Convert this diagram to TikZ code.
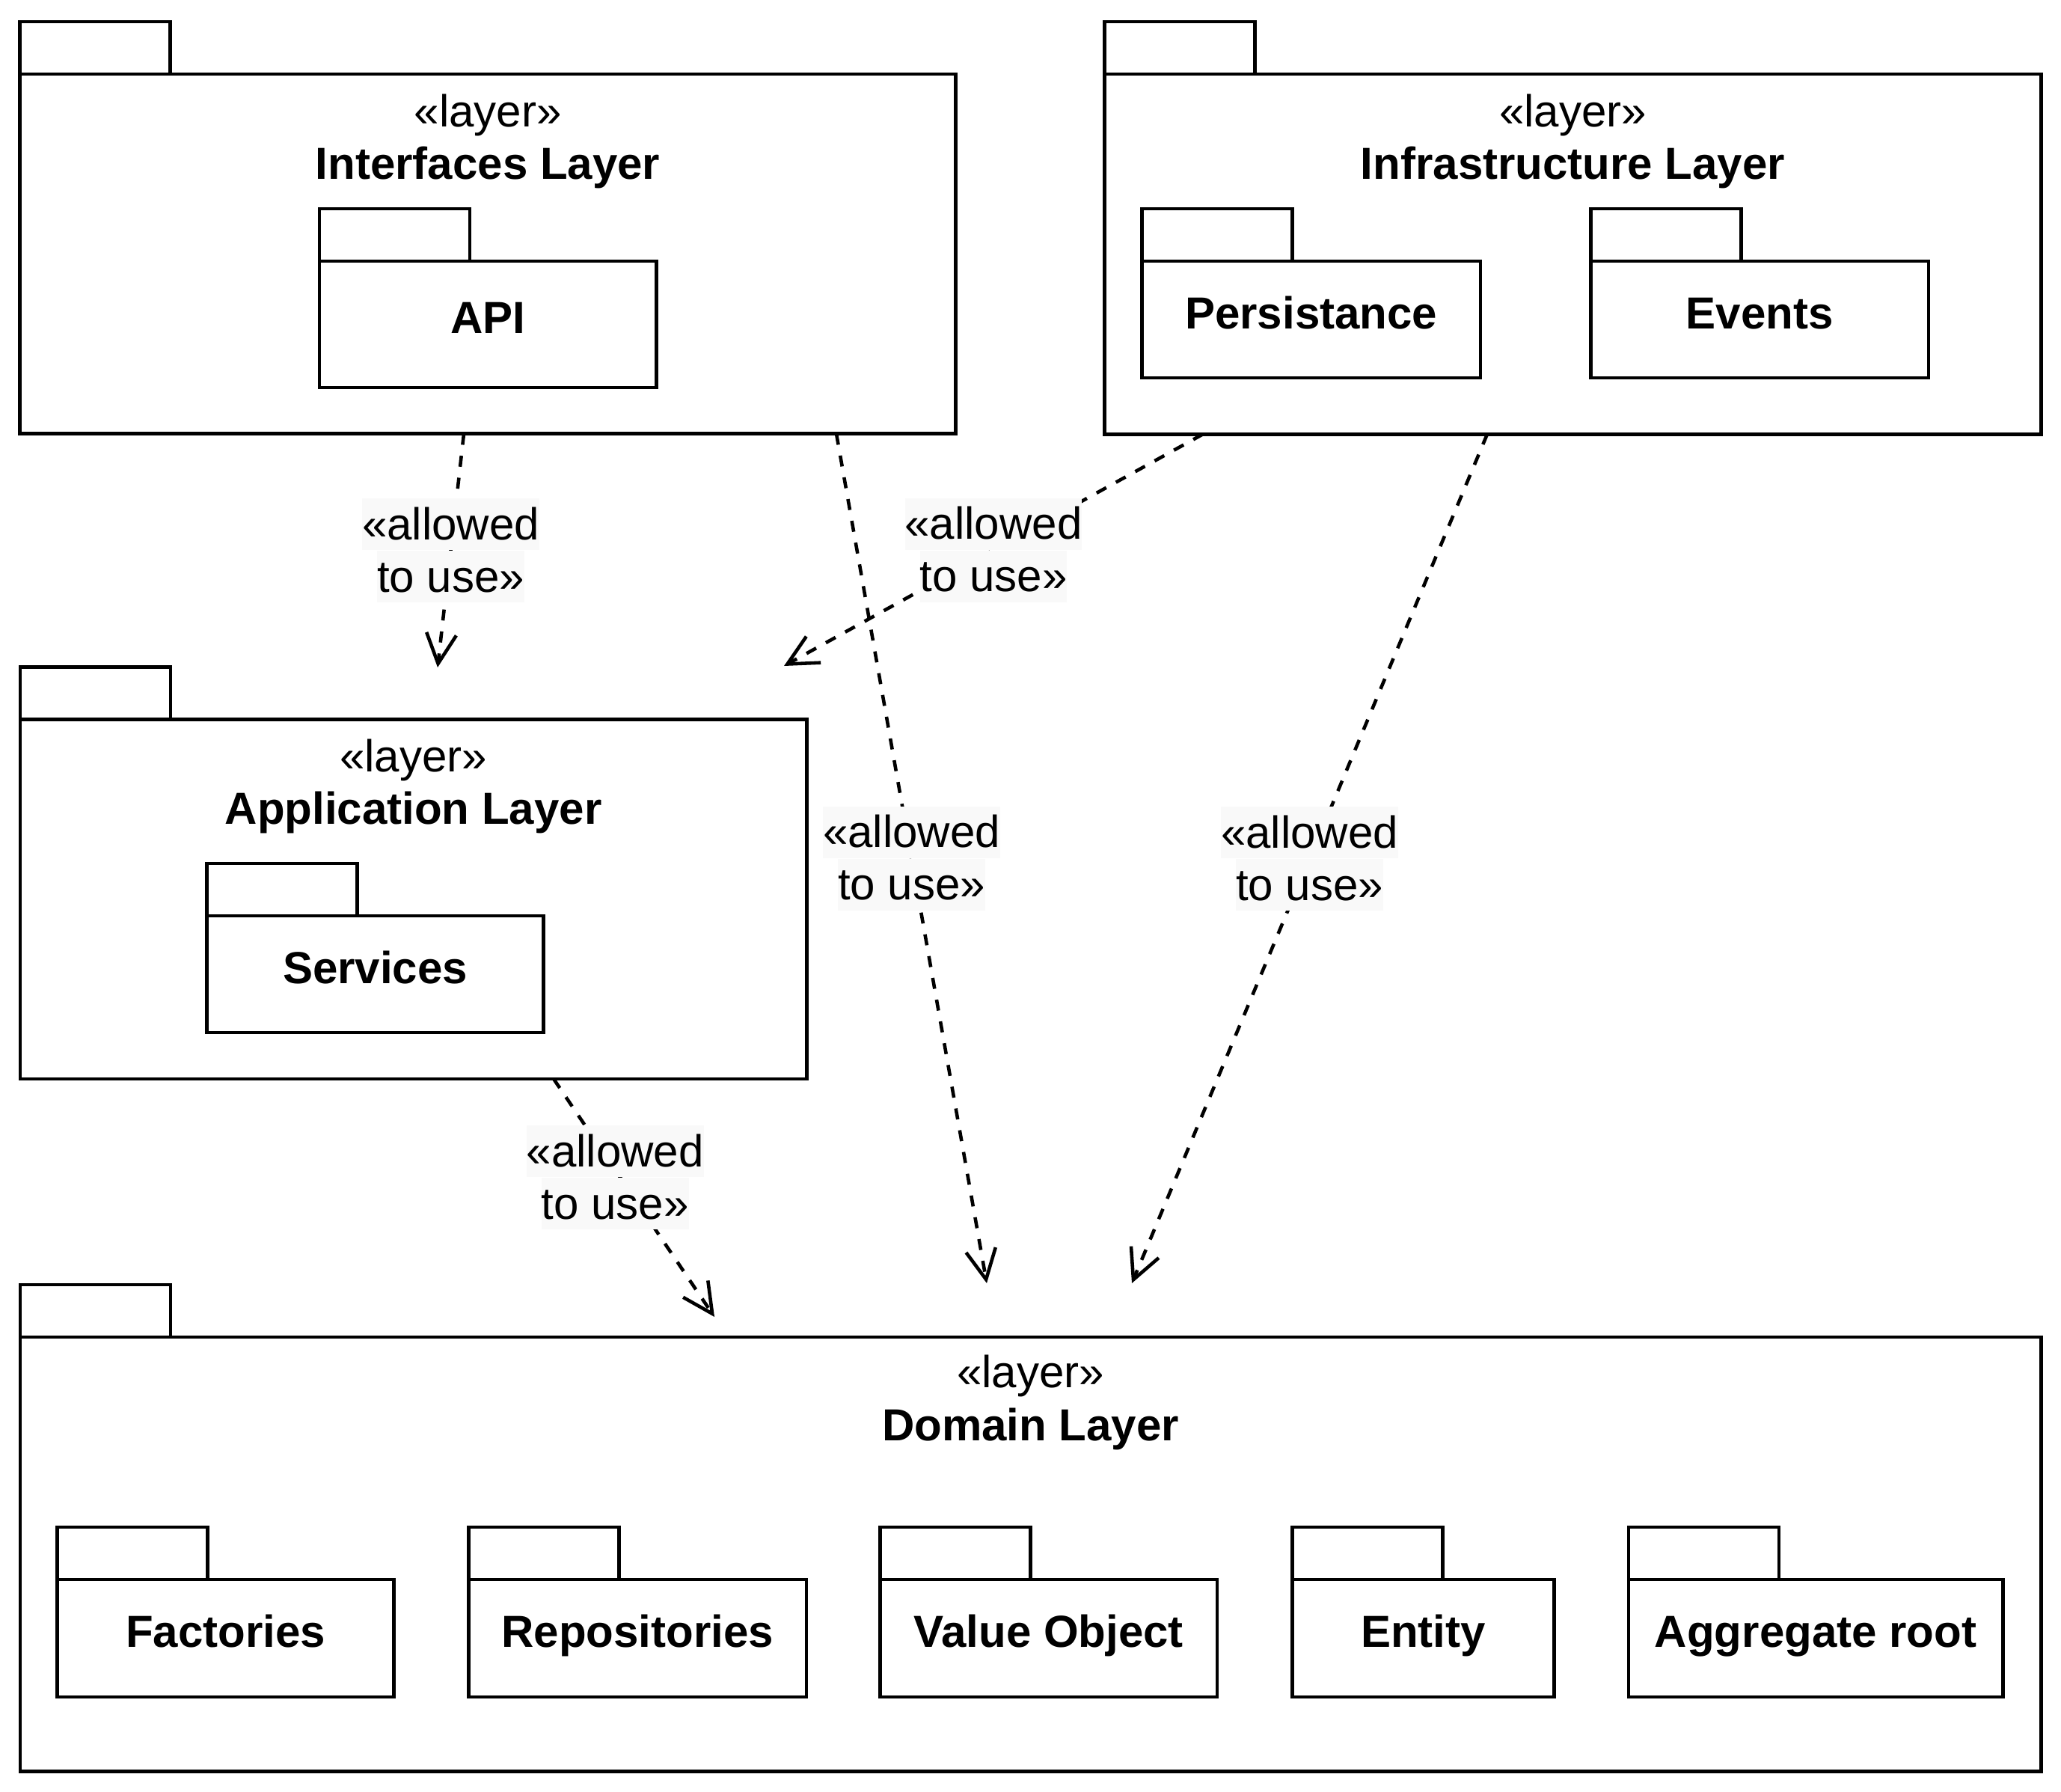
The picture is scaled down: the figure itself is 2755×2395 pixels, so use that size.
\documentclass[tikz,border=0pt]{standalone}
\usepackage{fontspec}
\setmainfont{Liberation Sans}
\usetikzlibrary{arrows.meta,calc}
\definecolor{lblbg}{RGB}{249,249,249}
\newcommand\lblline[1]{{\setlength\fboxsep{0pt}\colorbox{lblbg}{\rule[-0.14cm]{0pt}{0.69cm}#1}}}
\tikzset{
  every node/.style={font=\fontsize{17.07pt}{19.92pt}\selectfont, inner sep=0pt, outer sep=0pt},
  pkgbody/.style={draw, line width=1.3pt, rectangle, anchor=north west, inner sep=0pt, outer sep=0pt},
  pkgtab/.style={line width=1.3pt},
  stereo/.style={anchor=base},
  pkgname/.style={anchor=base, font=\fontsize{17.07pt}{19.92pt}\selectfont\bfseries},
  dep/.style={line width=1.3pt, dash pattern=on 4.2pt off 4.2pt, -{Straight Barb[length=0.4cm,width=0.4cm]}},
  lbl/.style={align=center, anchor=center},
}
\begin{document}
\begin{tikzpicture}[x=0.01cm,y=-0.01cm]
\useasboundingbox (0,0) rectangle (2755,2395);

% ---------------- Interfaces Layer
\node[pkgbody, minimum width=12.505cm, minimum height=4.805cm] (intf) at (26.5,99) {};
\draw[pkgtab] (intf.north west) rectangle ++(201,-70);
\node[stereo] (intfst) at ($(intf.north)+(0,71)$) {«layer»};
\node[pkgname] (intfnm) at ($(intf.north)+(0,141)$) {Interfaces Layer};

\node[pkgbody, minimum width=4.5cm, minimum height=1.69cm] (api) at (427,349) {};
\draw[pkgtab] (api.north west) rectangle ++(201,-70);
\node[pkgname] (apinm) at ($(api.center)+(0,12)$) {API};

% ---------------- Infrastructure Layer
\node[pkgbody, minimum width=12.51cm, minimum height=4.81cm] (infra) at (1476.6,99) {};
\draw[pkgtab] (infra.north west) rectangle ++(201,-70);
\node[stereo] (infrast) at ($(infra.north)+(0,71)$) {«layer»};
\node[pkgname] (infranm) at ($(infra.north)+(0,141)$) {Infrastructure Layer};

\node[pkgbody, minimum width=4.52cm, minimum height=1.56cm] (pers) at (1526.6,349) {};
\draw[pkgtab] (pers.north west) rectangle ++(201,-70);
\node[pkgname] (persnm) at ($(pers.center)+(0,12)$) {Persistance};

\node[pkgbody, minimum width=4.51cm, minimum height=1.56cm] (evts) at (2126.7,349) {};
\draw[pkgtab] (evts.north west) rectangle ++(201,-70);
\node[pkgname] (evtsnm) at ($(evts.center)+(0,12)$) {Events};

% ---------------- Application Layer
\node[pkgbody, minimum width=10.51cm, minimum height=4.80cm] (app) at (26.8,961.6) {};
\draw[pkgtab] (app.north west) rectangle ++(201,-70);
\node[stereo] (appst) at ($(app.north)+(0,70)$) {«layer»};
\node[pkgname] (appnm) at ($(app.north)+(0,140)$) {Application Layer};

\node[pkgbody, minimum width=4.5cm, minimum height=1.56cm] (serv) at (276.5,1224) {};
\draw[pkgtab] (serv.north west) rectangle ++(201,-70);
\node[pkgname] (servnm) at ($(serv.center)+(0,12)$) {Services};

% ---------------- Domain Layer
\node[pkgbody, minimum width=27.0cm, minimum height=5.80cm] (dom) at (26.8,1787) {};
\draw[pkgtab] (dom.north west) rectangle ++(201,-70);
\node[stereo] (domst) at ($(dom.north)+(0,67)$) {«layer»};
\node[pkgname] (domnm) at ($(dom.north)+(0,138)$) {Domain Layer};

\node[pkgbody, minimum width=4.5cm, minimum height=1.57cm] (fact) at (76.5,2111) {};
\draw[pkgtab] (fact.north west) rectangle ++(201,-70);
\node[pkgname] (factnm) at ($(fact.center)+(0,12)$) {Factories};

\node[pkgbody, minimum width=4.51cm, minimum height=1.57cm] (repo) at (626.6,2111) {};
\draw[pkgtab] (repo.north west) rectangle ++(201,-70);
\node[pkgname] (reponm) at ($(repo.center)+(0,12)$) {Repositories};

\node[pkgbody, minimum width=4.5cm, minimum height=1.57cm] (vobj) at (1176.7,2111) {};
\draw[pkgtab] (vobj.north west) rectangle ++(201,-70);
\node[pkgname] (vobjnm) at ($(vobj.center)+(0,12)$) {Value Object};

\node[pkgbody, minimum width=3.5cm, minimum height=1.57cm] (ent) at (1727.5,2111) {};
\draw[pkgtab] (ent.north west) rectangle ++(201,-70);
\node[pkgname] (entnm) at ($(ent.center)+(0,12)$) {Entity};

\node[pkgbody, minimum width=5.0cm, minimum height=1.57cm] (aggr) at (2176.9,2111) {};
\draw[pkgtab] (aggr.north west) rectangle ++(201,-70);
\node[pkgname] (aggrnm) at ($(aggr.center)+(0,12)$) {Aggregate root};

% ---------------- connectors
\coordinate (c1s) at ($(intf.south west)+(593.5,0)$);
\coordinate (c1e) at ($(app.north west)+(558.2,-69.6)$);
\coordinate (c2s) at ($(intf.south west)+(1091.5,0)$);
\coordinate (c2e) at ($(dom.north west)+(1292.2,-72)$);
\coordinate (c3s) at ($(infra.south west)+(131.4,0)$);
\coordinate (c3e) at ($(app.north west)+(1021.2,-71.6)$);
\coordinate (c4s) at ($(infra.south west)+(511.4,0)$);
\coordinate (c4e) at ($(dom.north west)+(1486.2,-72)$);
\coordinate (c5s) at ($(app.south west)+(713.2,0)$);
\coordinate (c5e) at ($(dom.north west)+(928.2,-27)$);

\draw[dep] (c1s) -- (c1e) node[lbl, pos=0.5] (l1) {\lblline{«allowed}\\\lblline{to use»}};
\draw[dep] (c2s) -- (c2e) node[lbl, pos=0.5] (l2) {\lblline{«allowed}\\\lblline{to use»}};
\draw[dep] (c3s) -- (c3e) node[lbl, pos=0.5] (l3) {\lblline{«allowed}\\\lblline{to use»}};
\draw[dep] (c4s) -- (c4e) node[lbl, pos=0.5] (l4) {\lblline{«allowed}\\\lblline{to use»}};
\draw[dep] (c5s) -- (c5e) node[lbl, pos=0.415, xshift=-0.07cm] (l5) {\lblline{«allowed}\\\lblline{to use»}};
\end{tikzpicture}
\end{document}
